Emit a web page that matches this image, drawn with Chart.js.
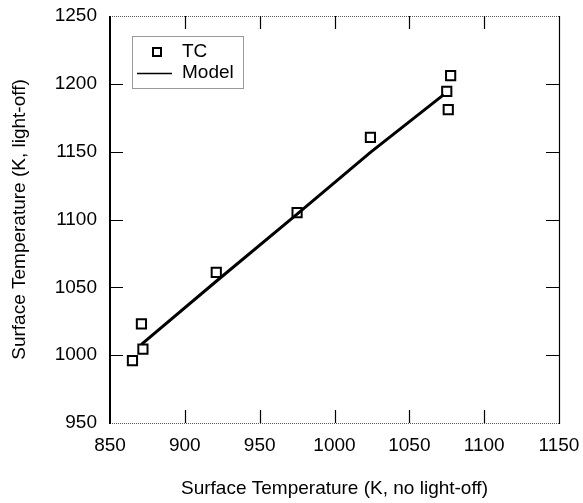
<!DOCTYPE html>
<html>
<head>
<meta charset="utf-8">
<script src="https://cdn.jsdelivr.net/npm/chart.js@4/dist/chart.umd.min.js"></script>
<style>
  html, body { margin: 0; padding: 0; background: #fff; }
  #wrap { width: 583px; height: 503px; position: relative; }
</style>
</head>
<body>
<div id="wrap"><canvas id="c" width="583" height="503"></canvas></div>
<script>
// Data
const tcX = [865, 872, 871, 921, 975, 1024, 1077.6, 1075, 1076];
const tcY = [996, 1004.5, 1023, 1061, 1105, 1160.5, 1206, 1194.5, 1181];
const modelX = [871, 921, 975, 1024, 1073];
const modelY = [1008, 1054.5, 1104, 1149.5, 1192];
const xTicks = [850, 900, 950, 1000, 1050, 1100, 1150];
const yTicks = [950, 1000, 1050, 1100, 1150, 1200, 1250];
const seriesNames = ['TC', 'Model'];
const xTitle = 'Surface Temperature (K, no light-off)';
const yTitle = 'Surface Temperature (K, light-off)';

const FONT = 'Liberation Sans, Arial, sans-serif';

const framePlugin = {
  id: 'frame',
  afterDraw(chart) {
    const ctx = chart.ctx;
    const a = chart.chartArea;
    const xs = chart.scales.x, ys = chart.scales.y;
    ctx.save();
    ctx.strokeStyle = '#555';
    ctx.lineWidth = 1;
    ctx.setLineDash([1, 1]);
    ctx.beginPath();
    ctx.moveTo(a.left, a.top + 0.5); ctx.lineTo(a.right, a.top + 0.5);
    ctx.moveTo(a.left, a.bottom + 0.5); ctx.lineTo(a.right, a.bottom + 0.5);
    ctx.stroke();
    ctx.setLineDash([]);
    ctx.strokeStyle = '#000';
    ctx.lineWidth = 2;
    ctx.beginPath();
    ctx.moveTo(a.left, a.top); ctx.lineTo(a.left, a.bottom + 1);
    ctx.stroke();
    ctx.lineWidth = 1.2;
    ctx.beginPath();
    ctx.moveTo(a.right + 0.5, a.top); ctx.lineTo(a.right + 0.5, a.bottom + 1);
    ctx.stroke();
    const tl = 13;
    ctx.lineWidth = 1.2;
    ctx.beginPath();
    xTicks.forEach(v => {
      const px = Math.round(xs.getPixelForValue(v)) + 0.5;
      if (v !== xTicks[0] && v !== xTicks[xTicks.length - 1]) {
        ctx.moveTo(px, a.bottom); ctx.lineTo(px, a.bottom - tl);
        ctx.moveTo(px, a.top); ctx.lineTo(px, a.top + tl);
      }
    });
    yTicks.forEach(v => {
      const py = Math.round(ys.getPixelForValue(v)) + 0.5;
      if (v !== yTicks[0] && v !== yTicks[yTicks.length - 1]) {
        ctx.moveTo(a.left, py); ctx.lineTo(a.left + tl, py);
        ctx.moveTo(a.right, py); ctx.lineTo(a.right - tl, py);
      }
    });
    ctx.stroke();

    const lx = 132, ly = 36, lw = 111, lh = 52;
    ctx.fillStyle = '#fff';
    ctx.fillRect(lx, ly, lw, lh);
    ctx.strokeStyle = '#333';
    ctx.lineWidth = 1;
    ctx.setLineDash([1, 1]);
    ctx.strokeRect(lx + 0.5, ly + 0.5, lw, lh);
    ctx.setLineDash([]);
    const ds0 = chart.data.datasets[0];
    ctx.strokeStyle = ds0.borderColor;
    ctx.lineWidth = ds0.borderWidth;
    ctx.strokeRect(lx + 21, ly + 12, 8, 8);
    ctx.fillStyle = '#000';
    ctx.font = '19px ' + FONT;
    ctx.textBaseline = 'middle';
    ctx.textAlign = 'left';
    ctx.fillText(ds0.label, lx + 50, ly + 16);
    const ds1 = chart.data.datasets[1];
    ctx.strokeStyle = ds1.borderColor;
    ctx.lineWidth = 1.5;
    ctx.beginPath();
    ctx.moveTo(lx + 5, ly + 37.5); ctx.lineTo(lx + 40, ly + 37.5);
    ctx.stroke();
    ctx.fillText(ds1.label, lx + 50, ly + 37);
    ctx.restore();
  }
};

const hiddenGrid = (len) => ({ display: true, drawOnChartArea: false, drawTicks: true, tickLength: len, color: 'rgba(0,0,0,0)' });

new Chart(document.getElementById('c'), {
  type: 'scatter',
  data: {
    datasets: [
      {
        label: seriesNames[0],
        data: tcX.map((x, i) => ({ x: x, y: tcY[i] })),
        pointStyle: 'rect',
        pointRadius: 6.5,
        pointBorderWidth: 2,
        borderWidth: 2,
        borderColor: '#000',
        backgroundColor: 'rgba(0,0,0,0)',
        showLine: false,
        order: 1
      },
      {
        label: seriesNames[1],
        data: modelX.map((x, i) => ({ x: x, y: modelY[i] })),
        showLine: true,
        borderColor: '#000',
        borderWidth: 3,
        pointRadius: 0,
        fill: false,
        tension: 0,
        order: 2
      }
    ]
  },
  options: {
    responsive: false,
    animation: false,
    events: [],
    layout: { padding: { top: 16, right: 24, left: 0, bottom: 0 } },
    plugins: { legend: { display: false }, tooltip: { enabled: false } },
    scales: {
      x: {
        type: 'linear',
        min: 850, max: 1150,
        afterBuildTicks(s) { s.ticks = xTicks.map(v => ({ value: v })); },
        afterFit(s) { s.height = 80; },
        grid: hiddenGrid(10),
        border: { display: false },
        ticks: { color: '#000', font: { family: FONT, size: 19 }, padding: 1, maxRotation: 0, autoSkip: false, callback: v => String(v) },
        title: { display: true, text: xTitle, color: '#000', font: { family: FONT, size: 19 }, padding: { top: 0, bottom: 3 } }
      },
      y: {
        type: 'linear',
        min: 950, max: 1250,
        afterBuildTicks(s) { s.ticks = yTicks.map(v => ({ value: v })); },
        afterFit(s) { s.width = 110; },
        grid: hiddenGrid(12),
        border: { display: false },
        ticks: { color: '#000', font: { family: FONT, size: 19 }, padding: 1, autoSkip: false, callback: v => String(v) },
        title: { display: true, text: yTitle, color: '#000', font: { family: FONT, size: 19 }, padding: { top: 8, bottom: 0 } }
      }
    }
  },
  plugins: [framePlugin]
});
</script>
</body>
</html>
